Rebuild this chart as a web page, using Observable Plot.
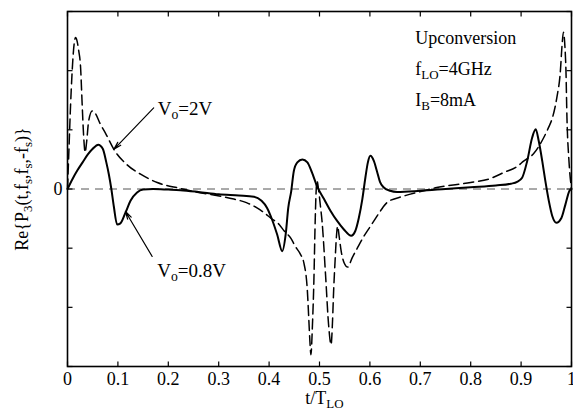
<!DOCTYPE html>
<html><head><meta charset="utf-8">
<script src="https://cdn.jsdelivr.net/npm/d3@7"></script>
<script src="https://cdn.jsdelivr.net/npm/@observablehq/plot@0.6"></script>
<style>
html,body{margin:0;padding:0;background:#fff;}
</style>
</head><body><div id="chart"></div>
<script>
// ---- data ----
const seriesNames = ["V_{o}=0.8V", "V_{o}=2V"];

const tSolid = [0,0.01,0.02,0.03,0.04,0.05,0.061,0.07,0.077,0.082,0.087,0.092,0.0985,0.105,0.115,0.125,0.138,0.15,0.17,0.2,0.224,0.26,0.3,0.34,0.37,0.385,0.396,0.406,0.416,0.426,0.433,0.438,0.444,0.449,0.456,0.466,0.476,0.485,0.495,0.509,0.522,0.535,0.548,0.563,0.571,0.578,0.585,0.591,0.596,0.601,0.608,0.614,0.62,0.627,0.64,0.654,0.7,0.75,0.8,0.85,0.88,0.892,0.902,0.912,0.922,0.929,0.935,0.942,0.948,0.955,0.962,0.97,0.98,0.988,0.996,1];
const vSolid = [0,0.17,0.32,0.45,0.58,0.68,0.75,0.68,0.45,0.25,0.0,-0.3,-0.6,-0.58,-0.4,-0.2,-0.06,-0.01,0.0,-0.01,-0.02,-0.05,-0.09,-0.11,-0.13,-0.2,-0.32,-0.52,-0.77,-1.05,-0.76,-0.32,-0.03,0.3,0.45,0.5,0.45,0.28,0.05,-0.17,-0.37,-0.54,-0.68,-0.79,-0.71,-0.49,-0.17,0.19,0.45,0.56,0.47,0.3,0.12,0.03,-0.03,-0.05,-0.03,0.0,0.03,0.06,0.09,0.12,0.19,0.47,0.87,1.01,0.81,0.47,0.14,-0.2,-0.46,-0.57,-0.49,-0.26,-0.03,0];

const tDashed = [0,0.003,0.006,0.009,0.012,0.016,0.019,0.022,0.026,0.029,0.032,0.035,0.038,0.042,0.049,0.055,0.065,0.075,0.092,0.118,0.145,0.178,0.224,0.26,0.29,0.33,0.355,0.376,0.39,0.403,0.42,0.43,0.443,0.452,0.462,0.469,0.476,0.479,0.481,0.483,0.486,0.489,0.491,0.493,0.495,0.498,0.502,0.505,0.512,0.518,0.523,0.526,0.528,0.531,0.533,0.536,0.539,0.543,0.549,0.556,0.565,0.575,0.588,0.601,0.608,0.621,0.634,0.667,0.707,0.73,0.8,0.84,0.866,0.892,0.905,0.925,0.945,0.955,0.962,0.971,0.978,0.981,0.984,0.987,0.989,0.991,0.995,1];
const vDashed = [0,0.7,1.4,1.95,2.35,2.56,2.5,2.35,2.05,1.45,0.9,0.62,0.8,1.15,1.32,1.28,1.1,0.95,0.67,0.41,0.25,0.11,0.01,-0.06,-0.1,-0.17,-0.23,-0.32,-0.4,-0.49,-0.6,-0.71,-0.83,-0.97,-1.1,-1.25,-1.73,-2.24,-2.58,-2.8,-2.3,-1.5,-0.7,-0.1,0.14,0.0,-0.3,-0.54,-1.45,-2.29,-2.63,-2.2,-1.73,-1.2,-0.88,-0.63,-0.8,-1.05,-1.25,-1.32,-1.16,-1.0,-0.8,-0.63,-0.54,-0.37,-0.23,-0.12,-0.03,0.02,0.11,0.18,0.28,0.38,0.47,0.6,0.87,1.05,1.2,1.55,2.0,2.4,2.65,2.4,2.0,1.2,0.47,0];

const xTicks = [0,0.1,0.2,0.3,0.4,0.5,0.6,0.7,0.8,0.9,1];
const xTickLabels = ["0","0.1","0.2","0.3","0.4","0.5","0.6","0.7","0.8","0.9","1"];
const yTicks = [-3,-2,-1,0,1,2,3];
const yLabelTicks = [0];
const yTickLabels = ["0"];
const xLabel = "t/T_{LO}";
const yLabel = "Re{P_{3}(t,f_{s},f_{s},-f_{s})}";
const infoLines = ["Upconversion", "f_{LO}=4GHz", "I_{B}=8mA"];

// ---- annotation placement (data coordinates) ----
const infoPos = [{t:0.69, v:2.54}, {t:0.69, v:2.02}, {t:0.69, v:1.5}];
const seriesLabelPos = [{t:0.178, v:-1.39}, {t:0.179, v:1.35}];
const arrowPos = [
  {x1:0.168, y1:-1.14, x2:0.115, y2:-0.38},
  {x1:0.171, y1:1.37, x2:0.092, y2:0.67}
];

const solid = tSolid.map((t,i)=>({t, v:vSolid[i]}));
const dashed = tDashed.map((t,i)=>({t, v:vDashed[i]}));
const info = infoLines.map((s,i)=>({s, ...infoPos[i]}));
const seriesLabels = seriesNames.map((s,i)=>({s, ...seriesLabelPos[i]}));

// inward tick-mark symbols (pixel length)
const TL = 5;
const tickUp = {draw(c){ c.moveTo(0,0); c.lineTo(0,-TL); }};
const tickDown = {draw(c){ c.moveTo(0,0); c.lineTo(0,TL); }};
const tickRight = {draw(c){ c.moveTo(0,0); c.lineTo(TL,0); }};
const tickLeft = {draw(c){ c.moveTo(0,0); c.lineTo(-TL,0); }};
const tickStyle = {stroke: "#000", fill: "none", strokeWidth: 1.2};

const chart = Plot.plot({
  width: 573, height: 416,
  marginLeft: 67, marginRight: 2, marginTop: 11, marginBottom: 50,
  style: {fontFamily: "'Liberation Serif','Times New Roman',serif", fontSize: "18px", color: "#000", background: "#fff"},
  x: {domain: [0, 1]},
  y: {domain: [-3, 3]},
  marks: [
    Plot.ruleY([0], {stroke: "#555", strokeWidth: 1, strokeDasharray: "8,6"}),
    Plot.line(dashed, {x: "t", y: "v", stroke: "#000", strokeWidth: 1.5, strokeDasharray: "10,5", curve: "monotone-x"}),
    Plot.line(solid, {x: "t", y: "v", stroke: "#000", strokeWidth: 2, curve: "monotone-x"}),
    Plot.frame({stroke: "#000", strokeWidth: 1.6}),
    // inward tick marks on all four sides
    Plot.dot(xTicks, {x: d => d, frameAnchor: "bottom", symbol: tickUp, ...tickStyle}),
    Plot.dot(xTicks, {x: d => d, frameAnchor: "top", symbol: tickDown, ...tickStyle}),
    Plot.dot(yTicks, {y: d => d, frameAnchor: "left", symbol: tickRight, ...tickStyle}),
    Plot.dot(yTicks, {y: d => d, frameAnchor: "right", symbol: tickLeft, ...tickStyle}),
    // tick labels
    Plot.axisX(xTicks, {anchor: "bottom", tickSize: 0, tickPadding: 6, tickFormat: d => xTickLabels[xTicks.indexOf(d)], label: null, fontSize: 18}),
    Plot.axisY(yLabelTicks, {anchor: "left", tickSize: 0, tickPadding: 5, tickFormat: d => yTickLabels[yLabelTicks.indexOf(d)], label: null, fontSize: 18}),
    Plot.text([xLabel], {frameAnchor: "bottom", lineAnchor: "middle", textAnchor: "middle", dy: 32, dx: 5, fontSize: 18}),
    Plot.text([yLabel], {frameAnchor: "left", lineAnchor: "middle", textAnchor: "middle", dx: -45, rotate: -90, fontSize: 18}),
    Plot.text(info, {x: "t", y: "v", text: "s", textAnchor: "start", fontSize: 18}),
    Plot.text(seriesLabels, {x: "t", y: "v", text: "s", textAnchor: "start", fontSize: 19}),
    Plot.arrow(arrowPos, {x1: "x1", y1: "y1", x2: "x2", y2: "y2", stroke: "#000", strokeWidth: 1.2, headLength: 10, headAngle: 30})
  ]
});

function subify(root){
  root.querySelectorAll("text").forEach(t => {
    const targets = t.querySelector("tspan") ? [...t.querySelectorAll("tspan")] : [t];
    targets.forEach(el => {
      const s = el.textContent;
      if (!s.includes("_{")) return;
      el.textContent = "";
      s.split(/_\{([^}]*)\}/).forEach((p, i) => {
        if (!p) return;
        const ts = document.createElementNS("http://www.w3.org/2000/svg", "tspan");
        ts.textContent = p;
        if (i % 2 === 1) { ts.setAttribute("baseline-shift", "-0.3em"); ts.setAttribute("font-size", "72%"); }
        el.appendChild(ts);
      });
    });
  });
}
subify(chart);
document.getElementById("chart").appendChild(chart);
</script>
</body></html>
